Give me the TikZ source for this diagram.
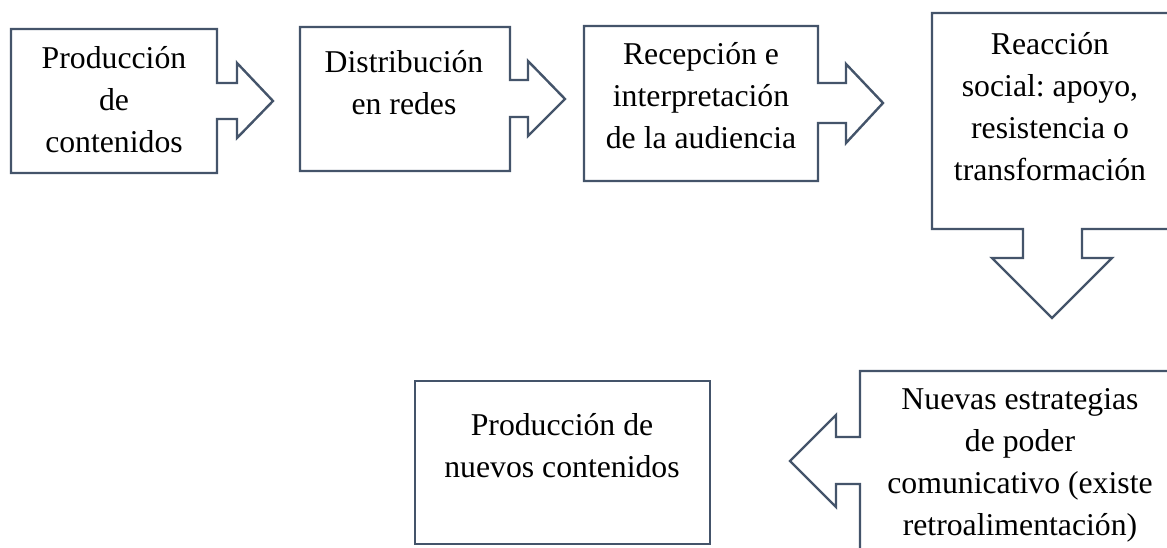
\documentclass[tikz,border=0pt]{standalone}
\usepackage{fontspec}
\setmainfont{Liberation Serif}
\frenchspacing
\definecolor{edge}{HTML}{44546A}
\tikzset{
  callout/.style={draw=edge, line width=1.8pt, line join=miter, fill=white},
  label/.style={align=center, inner sep=0pt, font=\fontsize{23.8pt}{31.5pt}\selectfont, text=black}
}
\begin{document}
\begin{tikzpicture}[x=0.75pt,y=-0.75pt]
\clip (0,0) rectangle (1167,548);
\fill[white] (0,0) rectangle (1167,548);
% shapes
\draw[callout] (11,29) -- (217,29) -- (217,83) -- (237,83) -- (237,63) -- (273,101) -- (237,138) -- (237,119) -- (217,119) -- (217,173) -- (11,173) -- cycle;
\draw[callout] (300,27) -- (510,27) -- (510,80) -- (528,80) -- (528,61) -- (565,99) -- (528,136) -- (528,117) -- (510,117) -- (510,171) -- (300,171) -- cycle;
\draw[callout] (584,26) -- (818,26) -- (818,83) -- (846,83) -- (846,64) -- (883,103) -- (846,143) -- (846,123) -- (818,123) -- (818,181) -- (584,181) -- cycle;
\draw[callout] (932,13) -- (1175,13) -- (1175,229) -- (1082,229) -- (1082,258) -- (1112,258) -- (1052,318) -- (992,258) -- (1023,258) -- (1023,229) -- (932,229) -- cycle;
\draw[callout] (860,371) -- (1180,371) -- (1180,560) -- (860,560) -- (860,484) -- (836,484) -- (836,507) -- (790,461) -- (836,415) -- (836,437) -- (860,437) -- cycle;
\draw[callout] (415,381) rectangle (710,544);
% texts
\node[label] (t1) at (114,100) {Producción\\de\\contenidos};
\node[label] (t2) at (404,83) {Distribución\\en redes};
\node[label] (t3) at (701,96) {Recepción e\\interpretación\\de la audiencia};
\node[label] (t4) at (1050,107) {Reacción\\social: apoyo,\\resistencia o\\transformación};
\node[label] (t5) at (1020,465) {Nuevas estrategias\\de poder\\comunicativo (existe\\retroalimentación)};
\node[label] (t6) at (562,446) {Producción de\\nuevos contenidos};
\end{tikzpicture}
\end{document}
